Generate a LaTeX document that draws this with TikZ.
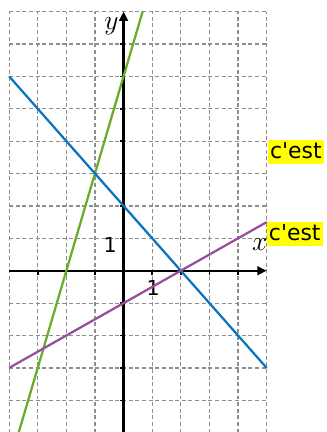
\documentclass[tikz,border=0pt]{standalone}
\usepackage{fontspec}
\setmainfont{DejaVu Sans}
\usetikzlibrary{arrows.meta,positioning}
\definecolor{gridgray}{HTML}{8E8E8E}
\definecolor{lineblue}{HTML}{0A74BC}
\definecolor{linegreen}{HTML}{6AAB2B}
\definecolor{linepurple}{HTML}{9A4D9E}
\definecolor{tagyellow}{HTML}{FFFF00}

\begin{document}
\begin{tikzpicture}[x=0.757cm, y=0.857cm,
    gridline/.style={gridgray, line width=0.9pt, dash pattern=on 3pt off 2pt},
    axis/.style={line width=1.7pt, -{Triangle[length=7pt,width=6.5pt]}},
    tickmark/.style={line width=1.2pt},
    graphline/.style={line width=1.7pt},
    ticklabel/.style={font=\fontsize{15.5}{18}\selectfont, inner sep=0pt},
    axislabel/.style={font=\fontsize{20.74}{24}\selectfont, inner sep=0pt},
    tag/.style={fill=tagyellow, font=\fontsize{16.5}{19}\selectfont, inner sep=1.5pt,
      text depth=2.5pt, anchor=north west}]
  \useasboundingbox (-4.318,-4.978) rectangle (7.08,8.355);
  % grid
  \foreach \i in {-4,...,5} \draw[gridline] (\i,-5) -- (\i,8);
  \foreach \j in {-5,...,8} \draw[gridline] (-4,\j) -- (5,\j);
  % axes
  \coordinate (xmin) at (-4,0);
  \coordinate (xmax) at (5,0);
  \coordinate (ymin) at (0,-5);
  \coordinate (ymax) at (0,8);
  \draw[axis] (xmin) -- (xmax);
  \draw[axis] (ymin) -- (ymax);
  \foreach \i in {-3,-2,-1,1,2,3,4} \draw[tickmark] (\i,0) -- ++(0,-3pt);
  \foreach \j in {-4,...,-1,1,2,...,7} \draw[tickmark] (0,\j) -- ++(-3pt,0);
  \node[axislabel] (xlab) at (4.76,0.8) {$x$};
  \node[axislabel] (ylab) at (-0.42,7.55) {$y$};
  \node[ticklabel] (onex) at (1.03,-0.53) {1};
  \node[ticklabel] (oney) at (-0.47,0.79) {1};
  % the three lines
  \coordinate (gA) at (-11/3,-5);
  \coordinate (gB) at (2/3,8);
  \coordinate (bA) at (-4,6);
  \coordinate (bB) at (5,-3);
  \coordinate (pA) at (-4,-3);
  \coordinate (pB) at (5,1.5);
  \draw[graphline, linegreen] (gA) -- (gB);
  \draw[graphline, lineblue] (bA) -- (bB);
  \draw[graphline, linepurple] (pA) -- (pB);
  % tags
  \node[tag] (tagone) at (5.04,4.03) {c\textquotesingle est};
  \node[tag] (tagtwo) at (pB) {c\textquotesingle est};
\end{tikzpicture}
\end{document}
